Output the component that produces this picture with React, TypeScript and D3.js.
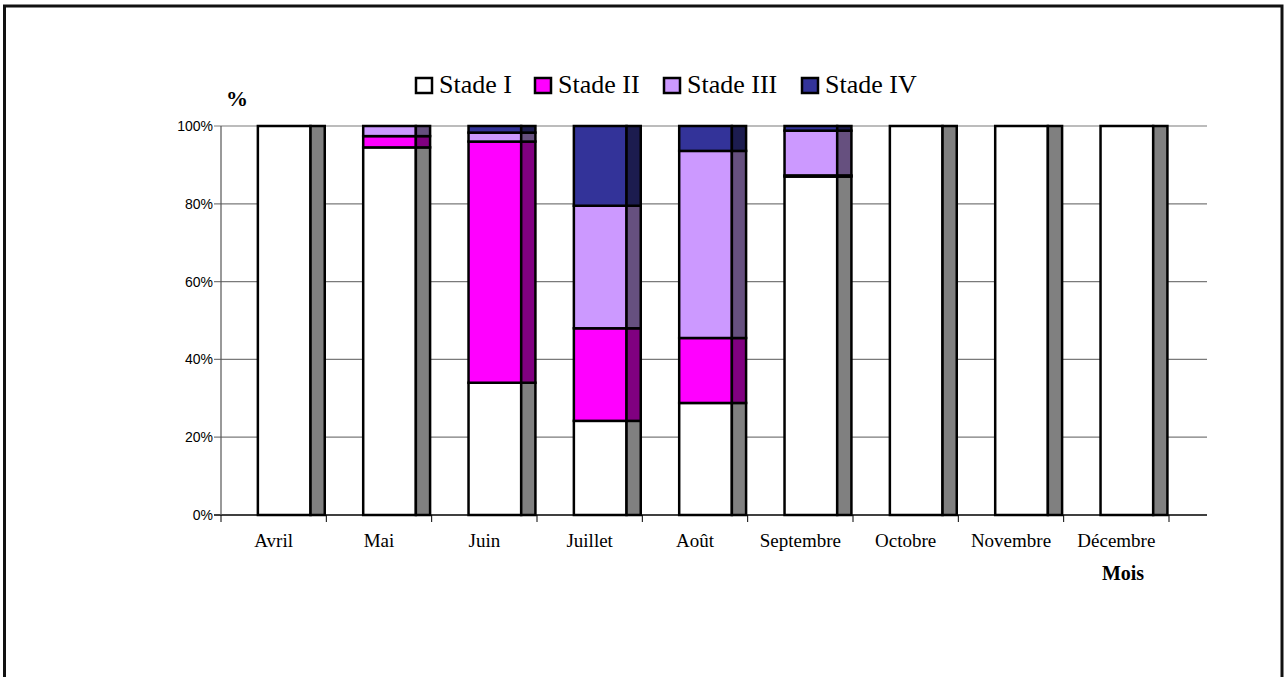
import React from 'react';
import * as d3 from 'd3';

const months = ["Avril", "Mai", "Juin", "Juillet", "Août", "Septembre", "Octobre", "Novembre", "Décembre"];
const stades = ["Stade I", "Stade II", "Stade III", "Stade IV"];
// pourcentages par stade et par mois
const stadeI = [100, 94.5, 34, 24.2, 28.8, 87, 100, 100, 100];
const stadeII = [0, 2.9, 62, 23.8, 16.7, 0.3, 0, 0, 0];
const stadeIII = [0, 2.6, 2.3, 31.5, 48.1, 11.5, 0, 0, 0];
const stadeIV = [0, 0, 1.7, 20.5, 6.4, 1.2, 0, 0, 0];
const yTicks = [0, 20, 40, 60, 80, 100];

const frontColors = ["#ffffff", "#ff00ff", "#cc99ff", "#333399"];
const sideColors = ["#808080", "#800080", "#66507f", "#1c1c4f"];

const width = 1285;
const height = 677;
const plotLeft = 221;
const plotRight = 1169;
const wallRight = 1207;
const plotTop = 126;
const plotBottom = 515;

type Seg = {month: string, stade: number, y0: number, y1: number};

const App: React.FC = () => {
  const xScale = d3.scaleBand<string>().domain(months).range([plotLeft, plotRight]);
  const yScale = d3.scaleLinear().domain([0, 100]).range([plotBottom, plotTop]);
  const bw = xScale.bandwidth();
  const frontOff = bw * 0.35;
  const frontW = bw * 0.5;
  const depth = bw * 0.135;

  const series = [stadeI, stadeII, stadeIII, stadeIV];
  const segs: Seg[] = [];
  months.forEach((m, i) => {
    let acc = 0;
    series.forEach((s, k) => {
      const v = s[i];
      if (v > 0) {
        segs.push({month: m, stade: k, y0: acc, y1: acc + v});
        acc += v;
      }
    });
  });

  const legendFont = 26;
  const legendX = 416;
  const legendY = 86;
  // crude text widths for Times at 26px
  const legendWidths = [73, 83, 92, 93];
  let lx = legendX;
  const legendItems = stades.map((s, k) => {
    const x = lx;
    lx += 16 + 7 + legendWidths[k] + 23;
    return {s, k, x};
  });

  return (
    <svg width={width} height={height} style={{position: "absolute", left: 0, top: 0, background: "white"}}>
      <rect x={4.5} y={6} width={1277.5} height={720} fill="white" stroke="#111" strokeWidth={3}/>

      {/* grid */}
      {yTicks.map(t => (
        <g key={t}>
          <line x1={plotLeft - 7} x2={wallRight} y1={yScale(t)} y2={yScale(t)} stroke={t === 0 ? "#000" : "#7a7a7a"} strokeWidth={t === 0 ? 1.5 : 1.2}/>
          <text x={plotLeft - 8} y={yScale(t) + 5} textAnchor="end" fontFamily="Arial, 'Liberation Sans', sans-serif" fontSize={14} fill="#000">{t}%</text>
        </g>
      ))}
      <line x1={plotLeft} x2={plotLeft} y1={plotTop} y2={plotBottom} stroke="#555" strokeWidth={1.2}/>

      {/* x ticks */}
      {months.concat(["end"]).map((m, i) => {
        const x = plotLeft + i * bw;
        return <line key={m} x1={x} x2={x} y1={plotBottom} y2={plotBottom + 7} stroke="#000" strokeWidth={1}/>;
      })}

      {/* bars */}
      {segs.map((d, i) => {
        const x0 = (xScale(d.month) as number) + frontOff;
        const yt = yScale(d.y1);
        const yb = yScale(d.y0);
        return (
          <g key={i}>
            <rect x={x0} y={yt} width={frontW} height={yb - yt} fill={frontColors[d.stade]} stroke="#000" strokeWidth={2.5}/>
            <rect x={x0 + frontW} y={yt} width={depth} height={yb - yt} fill={sideColors[d.stade]} stroke="#000" strokeWidth={2.5}/>
          </g>
        );
      })}

      {/* month labels */}
      {months.map(m => (
        <text key={m} x={(xScale(m) as number) + bw / 2} y={547} textAnchor="middle" fontFamily="'Times New Roman', 'Liberation Serif', serif" fontSize={19} fill="#000">{m}</text>
      ))}

      <text x={1123} y={580} textAnchor="middle" fontFamily="'Times New Roman', 'Liberation Serif', serif" fontWeight="bold" fontSize={20} fill="#000">Mois</text>
      <text x={226} y={106} fontFamily="'Times New Roman', 'Liberation Serif', serif" fontWeight="bold" fontSize={22} fill="#000">%</text>

      {/* legend */}
      {legendItems.map(({s, k, x}) => (
        <g key={s}>
          <rect x={x} y={legendY - 8} width={16} height={15} fill={frontColors[k]} stroke="#000" strokeWidth={2.5}/>
          <text x={x + 23} y={legendY + 7} fontFamily="'Times New Roman', 'Liberation Serif', serif" fontSize={legendFont} fill="#000">{s}</text>
        </g>
      ))}
    </svg>
  );
};

export default App;
